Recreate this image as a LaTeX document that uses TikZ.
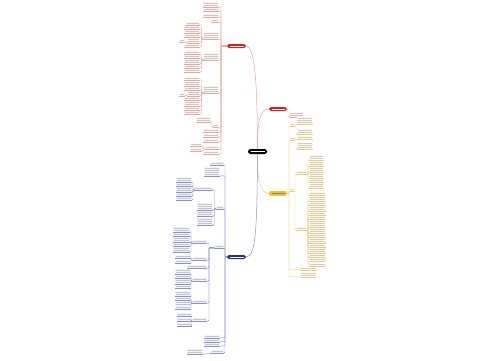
\documentclass[tikz,border=0pt]{standalone}
\usetikzlibrary{calc}
\definecolor{rd}{HTML}{D9201C}
\definecolor{rdl}{HTML}{E7A4A0}
\definecolor{bl}{HTML}{1E2A9C}
\definecolor{bll}{HTML}{8A8FD0}
\definecolor{yl}{HTML}{F2C12E}
\definecolor{yll}{HTML}{E9CB7A}
\tikzset{x=1pt,y=-1pt,
  conn/.style={line width=0.45pt,rounded corners=0.8pt}}
\newcommand\lf[6]{%
 \pgfmathsetmacro\hh{2*#5+0.8}%
 \node[inner sep=0,outer sep=0,minimum width=#4pt,minimum height=\hh pt,anchor=north west,fill=#6!10] (#1) at (#2,#3) {};%
 \foreach \k in {1,...,#5}{\draw[line width=0.6pt,#6!40!black!30] ({#2+0.6},{#3+2*\k-0.5}) -- ({#2+#4-0.6},{#3+2*\k-0.5});}%
 \draw[#6,line width=0.45pt] (#1.south west) -- (#1.south east);%
}
\newcommand\mn[7]{%
 \node[inner sep=0,outer sep=0,minimum width=#4pt,minimum height=#5pt,anchor=north west,fill=#6,rounded corners=1.8pt] (#1) at (#2,#3) {};%
 \draw[#7,line width=0.7pt] ({#2+2.5},{#3+#5/2}) -- ({#2+#4-2.5},{#3+#5/2});%
}
\newcommand\conL[4]{\draw[#3,conn] (#1) -- ++(-#4,0) |- (#2.south east);}
\newcommand\conR[4]{\draw[#3,conn] (#1) -- ++(#4,0) |- (#2.south west);}
\begin{document}
\begin{tikzpicture}
\fill[white] (0,0) rectangle (500,360);
\useasboundingbox (0,0) rectangle (500,360);
% ---------- centre and main branches
\mn{C}{248}{149}{19}{5}{black}{white}
\mn{R1}{227}{44}{19}{4}{rd}{white}
\mn{R2}{269}{107}{18}{4}{rd}{white}
\mn{Y}{269}{191}{18}{5}{yl}{black!50}
\mn{B}{227}{255}{19}{4}{bl}{white}
\draw[rdl,line width=0.5pt] (C.north) .. controls (257,90) and (256,46) .. (R1.east);
\draw[rdl,line width=0.5pt] (C.north) .. controls (257,118) and (261,109) .. (R2.west);
\draw[yll,line width=0.5pt] (C.south) .. controls (257,182) and (261,193) .. (Y.west);
\draw[bll,line width=0.5pt] (C.south) .. controls (257,228) and (256,257) .. (B.east);
% ---------- red left subtree
\lf{r1}{203}{2}{16}{2}{rdl}
\lf{r2}{203}{8}{16}{1}{rdl}
\lf{r3}{203}{14}{16}{1}{rdl}
\lf{r4}{211}{19}{8}{1}{rdl}
\lf{r5}{203}{32}{16}{3}{rdl}
\lf{r6}{203}{53}{16}{3}{rdl}
\lf{r7}{203}{86}{16}{3}{rdl}
\lf{r9}{213}{124}{6}{1}{rdl}
\lf{r8}{196}{117}{15}{2}{rdl}
\lf{r10}{203}{129}{16}{1}{rdl}
\lf{r11}{203}{134}{16}{1}{rdl}
\lf{r12}{203}{139}{16}{1}{rdl}
\lf{r13}{205}{146}{14}{1}{rdl}
\lf{r14}{203}{151}{16}{1}{rdl}
\foreach \c in {r1,r2,r3,r4,r5,r6,r7,r9,r10,r11,r12,r13,r14}{\conL{R1.west}{\c}{rdl}{6}}
\conL{r9.south west}{r8}{rdl}{1}
\lf{r51}{186}{22}{14}{1}{rdl}
\lf{r52}{184}{26}{16}{1}{rdl}
\lf{r53}{184}{30}{16}{1}{rdl}
\lf{r54}{184}{34}{16}{1}{rdl}
\lf{r55}{187}{38}{13}{2}{rdl}
\lf{r56}{184}{44}{16}{1}{rdl}
\foreach \c in {r51,r52,r53,r54,r55,r56}{\conL{r5.south west}{\c}{rdl}{1.5}}
\lf{r551}{179}{39}{6}{1}{rdl}
\conL{r55.south west}{r551}{rdl}{0.8}
\lf{r61}{184}{51}{16}{1}{rdl}
\lf{r62}{184}{55}{16}{1}{rdl}
\lf{r63}{184}{59}{16}{2}{rdl}
\lf{r64}{184}{65}{16}{1}{rdl}
\lf{r65}{184}{69}{16}{1}{rdl}
\foreach \c in {r61,r62,r63,r64,r65}{\conL{r6.south west}{\c}{rdl}{1.5}}
\lf{r71}{184}{77}{16}{1}{rdl}
\lf{r72}{184}{81}{16}{2}{rdl}
\lf{r73}{184}{87}{16}{1}{rdl}
\lf{r74}{187}{91}{13}{2}{rdl}
\lf{r75}{184}{97}{16}{1}{rdl}
\lf{r76}{184}{101}{16}{2}{rdl}
\lf{r77}{184}{107}{16}{1}{rdl}
\lf{r78}{184}{111}{16}{1}{rdl}
\foreach \c in {r71,r72,r73,r74,r75,r76,r77,r78}{\conL{r7.south west}{\c}{rdl}{1.5}}
\lf{r741}{179}{93}{6}{1}{rdl}
\conL{r74.south west}{r741}{rdl}{0.8}
\lf{r131}{190}{143}{12}{1}{rdl}
\lf{r132}{190}{148}{12}{1}{rdl}
\foreach \c in {r131,r132}{\conL{r13.south west}{\c}{rdl}{1.5}}
% ---------- red right
\lf{q1}{289}{112}{15}{2}{rdl}
\conR{R2.east}{q1}{rdl}{1}
% ---------- blue subtree
\lf{b1}{210}{162}{14}{1}{bll}
\lf{b2}{204}{167}{16}{4}{bll}
\lf{b3}{216}{206}{8}{1}{bll}
\lf{b4}{214}{245}{10}{1}{bll}
\lf{b51}{204}{335}{16}{1}{bll}
\lf{b52}{204}{339}{16}{1}{bll}
\lf{b53}{204}{343}{16}{1}{bll}
\lf{b6}{211}{350}{13}{1}{bll}
\foreach \c in {b1,b2,b3,b4,b51,b52,b53,b6}{\conL{B.west}{\c}{bll}{2}}
\lf{b61}{187}{349}{16}{2}{bll}
\conL{b6.south west}{b61}{bll}{1}
\lf{b31}{194}{187}{19}{1}{bll}
\lf{b32}{197}{203}{16}{3}{bll}
\lf{b33}{197}{211}{16}{2}{bll}
\lf{b34}{197}{218}{16}{3}{bll}
\foreach \c in {b31,b32,b33,b34}{\conL{b3.south west}{\c}{bll}{1.5}}
\lf{b311}{176}{177}{16}{2}{bll}
\lf{b312}{176}{183}{16}{1}{bll}
\lf{b313}{176}{187}{16}{2}{bll}
\lf{b314}{176}{193}{16}{1}{bll}
\lf{b315}{176}{197}{16}{1}{bll}
\foreach \c in {b311,b312,b313,b314,b315}{\conL{b31.south west}{\c}{bll}{1}}
\lf{b41}{192}{240}{15}{1}{bll}
\lf{b42}{192}{257}{15}{1}{bll}
\lf{b43}{187}{265}{20}{1}{bll}
\lf{b44}{192}{278}{15}{1}{bll}
\lf{b45}{192}{300}{15}{1}{bll}
\lf{b46}{192}{318}{15}{1}{bll}
\foreach \c in {b41,b42,b43,b44,b45,b46}{\conL{b4.south west}{\c}{bll}{5}}
\lf{b411}{173}{227}{17}{2}{bll}
\lf{b412}{173}{233}{17}{1}{bll}
\lf{b413}{173}{237}{17}{2}{bll}
\lf{b414}{173}{243}{17}{1}{bll}
\lf{b415}{173}{247}{17}{2}{bll}
\foreach \c in {b411,b412,b413,b414,b415}{\conL{b41.south west}{\c}{bll}{1}}
\lf{b421}{175}{255}{16}{1}{bll}
\lf{b422}{175}{260}{16}{1}{bll}
\foreach \c in {b421,b422}{\conL{b42.south west}{\c}{bll}{1}}
\lf{b441}{175}{269}{16}{2}{bll}
\lf{b442}{175}{275}{16}{1}{bll}
\lf{b443}{175}{279}{16}{2}{bll}
\lf{b444}{175}{285}{16}{1}{bll}
\foreach \c in {b441,b442,b443,b444}{\conL{b44.south west}{\c}{bll}{1}}
\lf{b451}{175}{291}{16}{2}{bll}
\lf{b452}{175}{297}{16}{1}{bll}
\lf{b453}{175}{301}{16}{2}{bll}
\lf{b454}{175}{306}{16}{1}{bll}
\foreach \c in {b451,b452,b453,b454}{\conL{b45.south west}{\c}{bll}{1}}
\lf{b461}{177}{313}{15}{1}{bll}
\lf{b462}{177}{318}{15}{1}{bll}
\lf{b463}{177}{323}{15}{1}{bll}
\foreach \c in {b461,b462,b463}{\conL{b46.south west}{\c}{bll}{1}}
% ---------- yellow subtree
\lf{y1}{290}{123}{5}{1}{yll}
\lf{y2}{290}{137}{5}{1}{yll}
\lf{ym}{290}{188}{4}{1}{yll}
\lf{y5}{300}{267}{17}{1}{yll}
\lf{y6}{300}{272}{17}{2}{yll}
\foreach \c in {y1,y2,ym,y5,y6}{\conR{Y.east}{\c}{yll}{2}}
\lf{y11}{297}{117}{16}{3}{yll}
\lf{y12}{297}{129}{16}{2}{yll}
\foreach \c in {y11,y12}{\conR{y1.south east}{\c}{yll}{1}}
\lf{y21}{297}{136}{16}{1}{yll}
\lf{y22}{297}{142}{16}{3}{yll}
\foreach \c in {y21,y22}{\conR{y2.south east}{\c}{yll}{1}}
\lf{y3}{296}{171}{11}{1}{yll}
\lf{y4}{296}{227}{11}{1}{yll}
\foreach \c in {y3,y4}{\conR{ym.south east}{\c}{yll}{1}}
\lf{y31}{309}{155}{15}{2}{yll}
\lf{y32}{309}{161}{15}{2}{yll}
\lf{y33}{309}{167}{15}{2}{yll}
\lf{y34}{309}{173}{15}{2}{yll}
\lf{y35}{309}{179}{15}{1}{yll}
\lf{y36}{309}{183}{15}{2}{yll}
\foreach \c in {y31,y32,y33,y34,y35,y36}{\conR{y3.south east}{\c}{yll}{1}}
\lf{y41}{309}{192}{17}{1}{yll}
\lf{y42}{309}{196}{17}{2}{yll}
\lf{y43}{309}{202}{17}{1}{yll}
\lf{y44}{309}{206}{17}{2}{yll}
\lf{y45}{309}{212}{17}{1}{yll}
\lf{y46}{309}{216}{17}{1}{yll}
\lf{y47}{309}{220}{17}{3}{yll}
\lf{y48}{309}{228}{17}{2}{yll}
\lf{y49}{309}{234}{17}{1}{yll}
\lf{y410}{309}{238}{17}{2}{yll}
\lf{y411}{309}{244}{17}{1}{yll}
\lf{y412}{309}{248}{17}{2}{yll}
\lf{y413}{309}{254}{17}{1}{yll}
\lf{y414}{309}{258}{17}{2}{yll}
\lf{y415}{309}{263}{17}{1}{yll}
\foreach \c in {y41,y42,y43,y44,y45,y46,y47,y48,y49,y410,y411,y412,y413,y414,y415}{\conR{y4.south east}{\c}{yll}{1}}
\end{tikzpicture}
\end{document}
